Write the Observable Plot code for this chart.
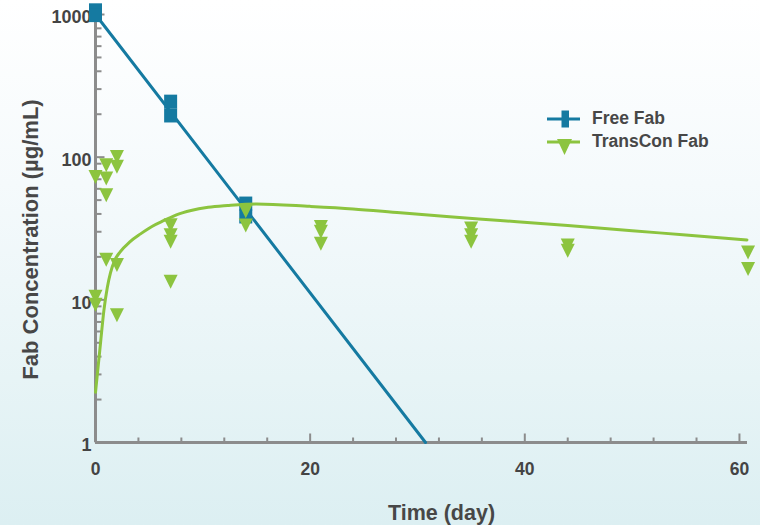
<!DOCTYPE html>
<html><head><meta charset="utf-8">
<script src="https://cdn.jsdelivr.net/npm/d3@7"></script>
<script src="https://cdn.jsdelivr.net/npm/@observablehq/plot@0.6"></script>
<style>
html,body{margin:0;padding:0;}
body{width:760px;height:525px;overflow:hidden;position:relative;
  background:linear-gradient(to bottom,#ffffff 0%,#f5fafc 35%,#e7f4f6 72%,#dceff2 100%);
  font-family:"Liberation Sans",Arial,sans-serif;}
#chart{position:absolute;left:0;top:0;}
.lg{position:absolute;left:592px;font-weight:bold;font-size:17.5px;line-height:17.5px;color:#474747;white-space:nowrap;}
#lgsym{position:absolute;left:0;top:0;}
</style></head>
<body>
<div id="chart"></div>
<svg id="lgsym" width="760" height="525">
  <line x1="547" x2="580" y1="119" y2="119" stroke="#157aa1" stroke-width="3"/>
  <rect x="561.5" y="110.5" width="7.5" height="17" fill="#157aa1"/>
  <line x1="547" x2="580" y1="142" y2="142" stroke="#8cc43f" stroke-width="3"/>
  <path d="M557,139L572,139L564.5,155Z" fill="#8cc43f"/>
</svg>
<div class="lg" style="top:109.5px">Free Fab</div>
<div class="lg" style="top:132.5px">TransCon Fab</div>
<script>
// ---- data ----
const freeTime = [0, 0, 7, 7, 14, 14];
const freeConc = [1070, 990, 245, 196, 47.3, 38.4];
const freeFitTime = [0, 30.75];
const freeFitConc = [1000, 1];

const transTime = [0, 0, 0, 1, 1, 1, 1, 2, 2, 2, 2, 7, 7, 7, 7, 14, 14, 21, 21, 21, 35, 35, 35, 44, 44, 60.8, 60.8];
const transConc = [75.5, 10.9, 9.6, 91.2, 73.5, 56.2, 19.8, 104, 88.8, 18.2, 8.1, 34.6, 29.5, 26.5, 13.9, 43.3, 34.5, 33.7, 31.1, 25.7, 32.8, 29.5, 26.5, 25, 22.9, 22.3, 17.1];
const transFitTime = [0, 0.47, 0.78, 1.1, 1.4, 1.8, 2.3, 3.2, 4.2, 5.3, 6.4, 7.6, 8.9, 10.5, 12.3, 15, 20, 24, 28.4, 33, 37.7, 44, 50, 55, 60.7];
const transFitConc = [2.25, 5.0, 8.4, 12.2, 15.5, 19.0, 21.7, 25.5, 29, 32.8, 36, 39.6, 42.3, 44.5, 45.8, 47, 45.2, 43.4, 40.7, 38.2, 36, 33.2, 30.5, 28.5, 26.3];

const yTickValues = [1, 10, 100, 1000];
const yMinorTicks = [2,3,4,5,6,7,8,9,20,30,40,50,60,70,80,90,200,300,400,500,600,700,800,900];
const xTickValues = [0, 20, 40, 60];
const xMinorTicks = [4,8,12,16,24,28,32,36,44,48,52,56];
const xMax = 60.75;

const freeColor = "#157aa1";
const transColor = "#8cc43f";
const axisColor = "#8c8c8c";

const free = freeTime.map((t, i) => ({t, c: freeConc[i]}));
const trans = transTime.map((t, i) => ({t, c: transConc[i]}));
const freeFit = freeFitTime.map((t, i) => ({t, c: freeFitConc[i]}));
const transFit = transFitTime.map((t, i) => ({t, c: transFitConc[i]}));

const sqSym = {draw(ctx){ ctx.rect(-6.5, -7, 13, 14); }};
const triSym = {draw(ctx){ ctx.moveTo(-7, -4.67); ctx.lineTo(7, -4.67); ctx.lineTo(0, 9.33); ctx.closePath(); }};
const tickRight = len => ({draw(ctx){ ctx.moveTo(0, 0); ctx.lineTo(len, 0); }});
const tickUp = len => ({draw(ctx){ ctx.moveTo(0, 0); ctx.lineTo(0, -len); }});

const chart = Plot.plot({
  width: 760, height: 525,
  marginTop: 14, marginRight: 13, marginBottom: 83, marginLeft: 95,
  style: {background: "transparent", fontFamily: "'Liberation Sans', Arial, sans-serif", color: "#444"},
  x: {domain: [0, xMax]},
  y: {type: "log", domain: [1, 1000]},
  marks: [
    Plot.axisY({ticks: yTickValues, tickSize: 0, tickPadding: 4, fontSize: 18, fontWeight: "bold", tickFormat: d => String(d), dy: 3, label: null}),
    Plot.axisX({ticks: xTickValues, tickSize: 0, tickPadding: 20, fontSize: 17.5, fontWeight: "bold", tickFormat: d => String(d), label: null}),
    Plot.dot(yMinorTicks, {x: () => 0, y: d => d, symbol: tickRight(6), fill: "none", stroke: axisColor, strokeWidth: 2}),
    Plot.dot(yTickValues, {x: () => 0, y: d => d, symbol: tickRight(9), fill: "none", stroke: axisColor, strokeWidth: 2}),
    Plot.dot(xMinorTicks, {x: d => d, y: () => 1, symbol: tickUp(5), fill: "none", stroke: axisColor, strokeWidth: 2}),
    Plot.dot(xTickValues, {x: d => d, y: () => 1, symbol: tickUp(9), fill: "none", stroke: axisColor, strokeWidth: 2}),
    Plot.ruleX([0], {y1: 1, y2: 1000, stroke: axisColor, strokeWidth: 3}),
    Plot.ruleY([1], {x1: 0, x2: xMax, stroke: axisColor, strokeWidth: 3}),
    Plot.text(["Fab Concentration (µg/mL)"], {frameAnchor: "left", textAnchor: "middle", lineAnchor: "middle", rotate: -90, dx: -65, dy: 11, fontSize: 22, fontWeight: "bold", fill: "#474747"}),
    Plot.text(["Time (day)"], {frameAnchor: "bottom", textAnchor: "middle", lineAnchor: "middle", dx: 20, dy: 71, fontSize: 21.5, fontWeight: "bold", fill: "#474747"}),
    Plot.line(freeFit, {x: "t", y: "c", stroke: freeColor, strokeWidth: 3}),
    Plot.dot(free, {x: "t", y: "c", symbol: sqSym, fill: freeColor, stroke: "none"}),
    Plot.line(transFit, {x: "t", y: "c", stroke: transColor, strokeWidth: 3, curve: "monotone-x"}),
    Plot.dot(trans, {x: "t", y: "c", symbol: triSym, fill: transColor, stroke: "none"})
  ]
});
document.getElementById("chart").appendChild(chart);
</script>
</body></html>
